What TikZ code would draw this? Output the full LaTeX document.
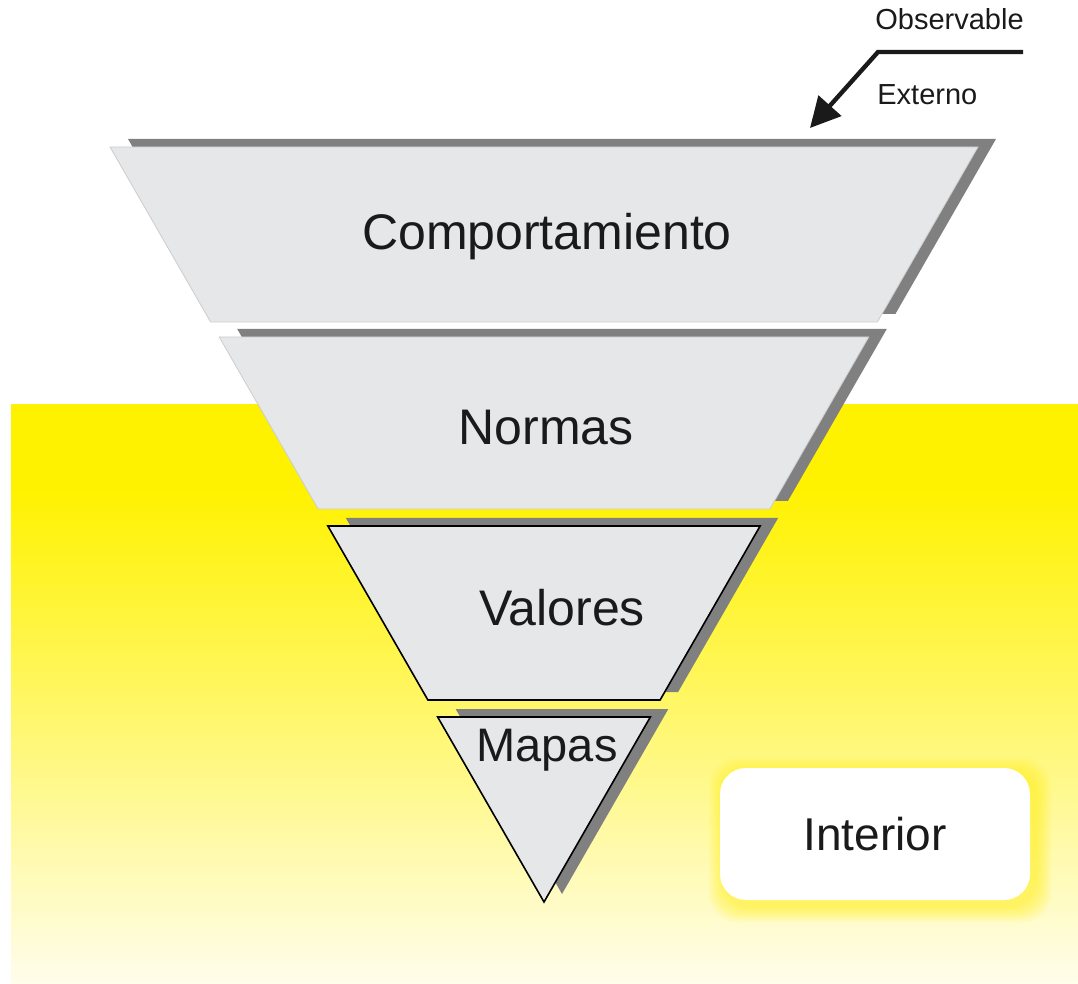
\documentclass[tikz,border=0pt]{standalone}
\usepackage{fontspec}
\setmainfont{Liberation Sans}
\usetikzlibrary{positioning, arrows.meta, calc}
\definecolor{layerfill}{RGB}{230,231,233}
\definecolor{layershadow}{RGB}{128,128,128}
\definecolor{ground}{RGB}{255,242,0}
\definecolor{groundlight}{RGB}{255,253,236}
\definecolor{ink}{RGB}{26,26,26}

\begin{document}
\begin{tikzpicture}[x=0.5pt, y=-0.5pt,
    layertext/.style={font=\fontsize{25}{30}\selectfont, text=ink, inner sep=0pt},
    smalltext/.style={font=\fontsize{14.5}{17}\selectfont, text=ink, inner sep=0pt},
    interiorbox/.style={fill=white, rounded corners=13pt, minimum width=155pt,
        minimum height=66pt, font=\fontsize{23}{28}\selectfont, text=ink}]
    \def\cx{544}
    \def\apex{902}
    \def\slope{0.5748}

    \useasboundingbox (0,0) rectangle (1078,984);

    % yellow ground
    \fill[ground] (11,404) rectangle (1078,490);
    \shade[top color=ground, bottom color=groundlight] (11,489) rectangle (1078,984);

    % layers of the funnel
    \foreach \ya/\yb/\i/\brd/\lw in {
        147/322/1/gray!40/0.4pt,
        337/509/2/gray!40/0.4pt,
        526/700/3/black/0.8pt,
        717/902/4/black/0.8pt}
    {
        \pgfmathsetmacro\xa{\slope*(\apex-\ya)}
        \pgfmathsetmacro\xb{\slope*(\apex-\yb)}

        \fill[layershadow, shift={(18,-8)}]
            (\cx-\xa,\ya) -- (\cx+\xa,\ya) -- (\cx+\xb,\yb) -- (\cx-\xb,\yb) -- cycle;

        \draw[\brd, fill=layerfill, line width=\lw, line join=miter]
            (\cx-\xa,\ya) -- (\cx+\xa,\ya) -- (\cx+\xb,\yb) -- (\cx-\xb,\yb) -- cycle;
    }

    % layer names
    \node[layertext, anchor=base] (comp) at (547,250) {Comportamiento};
    \node[layertext, anchor=base] (normas) at (546,445) {Normas};
    \node[layertext, anchor=base] (valores) at (562,625) {Valores};
    \node[layertext, anchor=base, font=\fontsize{23.5}{28}\selectfont] (mapas) at (547,762) {Mapas};

    % interior box with glow
    \foreach \g in {2,4,...,16}
    {
        \fill[ground, opacity=0.08, rounded corners=14pt]
            (720-\g+5,768-\g+6) rectangle (1030+\g+5,900+\g+6);
    }
    \node[interiorbox] (interior) at (875,834) {Interior};

    % observable / externo
    \coordinate (obsend) at (1023,52);
    \coordinate (bend) at (878,52);
    \coordinate (tip) at (810,128);
    \draw[ink, line width=2.2pt, -{Triangle[length=15pt, width=15pt]}] (obsend) -- (bend) -- (tip);

    \node[smalltext, anchor=base west] (obs) at (875,30) {Observable};
    \node[smalltext, anchor=base west] (ext) at (877,105) {Externo};
\end{tikzpicture}
\end{document}
